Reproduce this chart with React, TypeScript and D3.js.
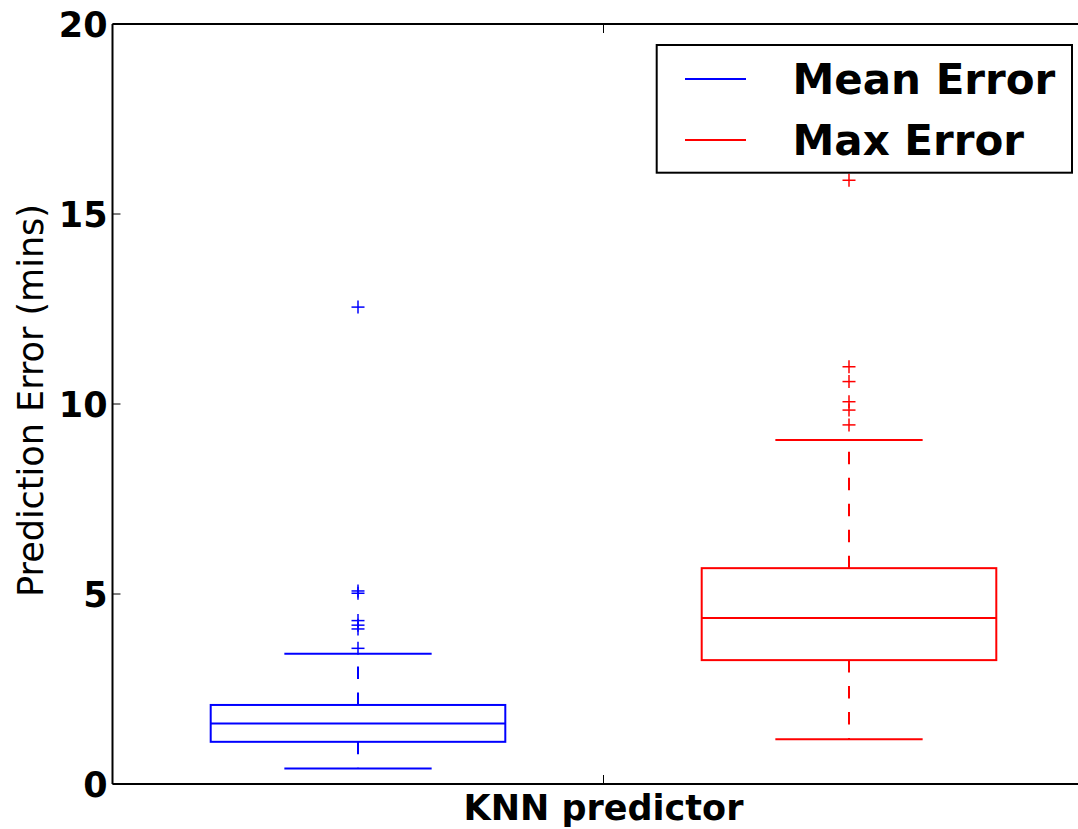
import React from "react";
import * as d3 from "d3";

const seriesNames = ["Mean Error", "Max Error"];
const seriesColors = ["#0000ff", "#ff0000"];
const positions = [1, 2];
// [lowerCap, q1, median, q3, upperCap]
const meanStats = [0.41, 1.11, 1.59, 2.08, 3.43];
const maxStats = [1.18, 3.26, 4.37, 5.68, 9.05];
const meanOutliers = [12.55, 5.08, 5.02, 4.3, 4.18, 4.08, 3.57];
const maxOutliers = [15.89, 10.98, 10.59, 10.06, 9.84, 9.45];
const yTicks = [0, 5, 10, 15, 20];
const xTickLabels = ["KNN predictor"];

const W = 1078;
const H = 829;
const left = 112.5;
const right = 1094.5;
const top = 24;
const bottom = 784;

export default function App() {
  const x = d3.scaleLinear().domain([0.5, 2.5]).range([left, right]);
  const y = d3.scaleLinear().domain([0, 20]).range([bottom, top]);
  const font = "'DejaVu Sans', sans-serif";
  const boxHalf = (x(1.5) - x(1)) * 0.6;
  const capHalf = boxHalf / 2;
  const stats = [meanStats, maxStats];
  const outliers = [meanOutliers, maxOutliers];

  return (
    <svg width={W} height={H} style={{ position: "absolute", left: 0, top: 0, background: "#fff" }}>
      <defs>
        <clipPath id="plot">
          <rect x={left} y={top} width={right - left} height={bottom - top} />
        </clipPath>
      </defs>
      <rect x={0} y={0} width={W} height={H} fill="#fff" />
      <g clipPath="url(#plot)">
        {stats.map((s, i) => {
          const cx = x(positions[i]);
          const c = seriesColors[i];
          return (
            <g key={i} stroke={c} fill="none" strokeWidth={2}>
              <line x1={cx} x2={cx} y1={y(s[1])} y2={y(s[0])} strokeDasharray="12.5,13.5" />
              <line x1={cx} x2={cx} y1={y(s[3])} y2={y(s[4])} strokeDasharray="12.5,13.5" />
              <line x1={cx - capHalf} x2={cx + capHalf} y1={y(s[0])} y2={y(s[0])} />
              <line x1={cx - capHalf} x2={cx + capHalf} y1={y(s[4])} y2={y(s[4])} />
              <rect x={cx - boxHalf} y={y(s[3])} width={boxHalf * 2} height={y(s[1]) - y(s[3])} />
              <line x1={cx - boxHalf} x2={cx + boxHalf} y1={y(s[2])} y2={y(s[2])} />
              {outliers[i].map((v, j) => (
                <g key={j} strokeWidth={1.5}>
                  <line x1={cx - 6.5} x2={cx + 6.5} y1={y(v)} y2={y(v)} />
                  <line x1={cx} x2={cx} y1={y(v) - 6.5} y2={y(v) + 6.5} />
                </g>
              ))}
            </g>
          );
        })}
      </g>
      {/* frame */}
      <g stroke="#000" strokeWidth={2} fill="none">
        <line x1={left} x2={left} y1={top} y2={bottom} />
        <line x1={left} x2={right} y1={top} y2={top} />
        <line x1={left} x2={right} y1={bottom} y2={bottom} />
      </g>
      {/* y ticks */}
      {yTicks.map((t) => (
        <g key={t}>
          <line x1={left} x2={left + 8} y1={y(t)} y2={y(t)} stroke="#000" strokeWidth={1} />
          <text
            x={left - 5}
            y={y(t)}
            dy="0.36em"
            textAnchor="end"
            fontFamily={font}
            fontWeight="bold"
            fontSize={35}
            fill="#000"
          >
            {t}
          </text>
        </g>
      ))}
      {/* x tick */}
      {xTickLabels.map((lab, i) => {
        const tx = x(1.5 + i);
        return (
          <g key={lab}>
            <line x1={tx} x2={tx} y1={bottom} y2={bottom - 9} stroke="#000" strokeWidth={1} />
            <line x1={tx} x2={tx} y1={top} y2={top + 9} stroke="#000" strokeWidth={1} />
            <text x={tx} y={820} textAnchor="middle" fontFamily={font} fontWeight="bold" fontSize={35} fill="#000">
              {lab}
            </text>
          </g>
        );
      })}
      {/* y label */}
      <text
        transform={`translate(43, 400.5) rotate(-90)`}
        textAnchor="middle"
        fontFamily={font}
        fontSize={35}
        fill="#000"
      >
        Prediction Error (mins)
      </text>
      {/* legend */}
      <rect x={656.7} y={45} width={1072 - 656.7} height={172.7 - 45} fill="#fff" stroke="#000" strokeWidth={2} />
      {seriesNames.map((n, i) => {
        const ly = 79 + i * 61;
        return (
          <g key={n}>
            <line x1={685} x2={746} y1={ly} y2={ly} stroke={seriesColors[i]} strokeWidth={2} />
            <text x={792.5} y={ly + 15} fontFamily={font} fontWeight="bold" fontSize={42} fill="#000">
              {n}
            </text>
          </g>
        );
      })}
    </svg>
  );
}
